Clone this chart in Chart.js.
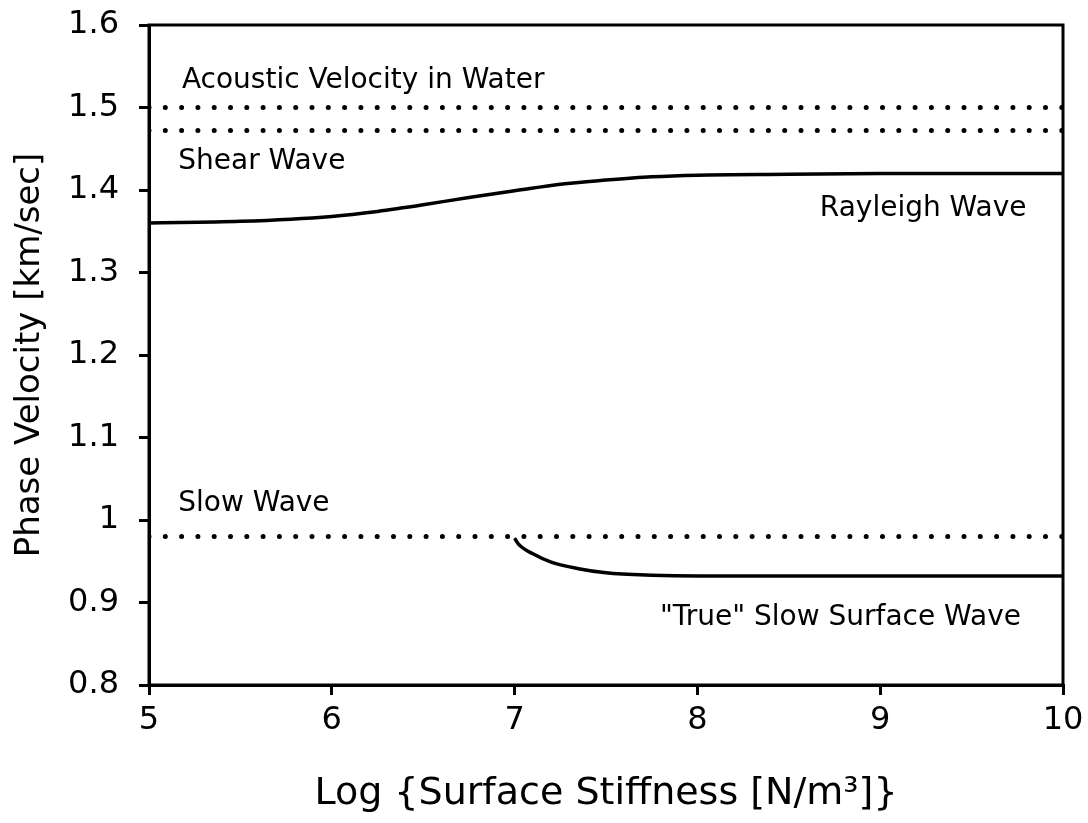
<!DOCTYPE html>
<html>
<head>
<meta charset="utf-8">
<script src="https://cdn.jsdelivr.net/npm/chart.js@4"></script>
<style>
  html, body { margin: 0; padding: 0; background: #fff; }
  #wrap { width: 1088px; height: 823px; }
</style>
</head>
<body>
<div id="wrap"><canvas id="phaseChart"></canvas></div>
<script>
// Log of surface stiffness (x) and phase velocities in km/sec (y)
const rayleighX = [5, 5.5, 6, 6.25, 6.5, 6.75, 7, 7.25, 7.5, 7.75, 8, 8.5, 9, 9.5, 10];
const rayleighV = [1.36, 1.362, 1.368, 1.374, 1.382, 1.391, 1.399, 1.407, 1.412, 1.416, 1.418, 1.419, 1.42, 1.42, 1.42];

const slowSurfX = [7.0, 7.02, 7.1, 7.2, 7.35, 7.5, 7.75, 8, 8.5, 9, 10];
const slowSurfV = [0.978, 0.971, 0.959, 0.949, 0.941, 0.936, 0.933, 0.932, 0.932, 0.932, 0.932];

// horizontal reference velocities
const waterV = 1.5;
const shearV = 1.472;
const slowV = 0.98;

const xTicks = [5, 6, 7, 8, 9, 10];
const yTicks = [0.8, 0.9, 1, 1.1, 1.2, 1.3, 1.4, 1.5, 1.6];

// text notes placed at data coordinates
const notes = [
  { text: "Acoustic Velocity in Water", x: 5.18, y: 1.524, align: "left" },
  { text: "Shear Wave", x: 5.16, y: 1.426, align: "left" },
  { text: "Rayleigh Wave", x: 9.8, y: 1.368, align: "right" },
  { text: "Slow Wave", x: 5.16, y: 1.011, align: "left" },
  { text: "\"True\" Slow Surface Wave", x: 9.77, y: 0.873, align: "right" }
];

const xMin = xTicks[0], xMax = xTicks[xTicks.length - 1];
const flat = (v) => [{ x: xMin, y: v }, { x: xMax, y: v }];
const pts = (xs, ys) => xs.map((x, i) => ({ x: x, y: ys[i] }));

const dotted = {
  borderColor: "#000",
  borderWidth: 5,
  borderDash: [0, 16.3],
  borderCapStyle: "round",
  pointRadius: 0,
  showLine: true,
  fill: false
};
const solid = {
  borderColor: "#000",
  borderWidth: 3.5,
  pointRadius: 0,
  showLine: true,
  fill: false,
  cubicInterpolationMode: "monotone"
};

const family = "'DejaVu Sans', 'Liberation Sans', Arial, sans-serif";

// draws the frame and the text notes
const framePlugin = {
  id: "frame",
  afterDatasetsDraw(chart) {
    const { ctx, chartArea: a, scales } = chart;
    ctx.save();
    ctx.strokeStyle = "#000";
    ctx.lineWidth = 3;
    ctx.strokeRect(a.left, a.top, a.right - a.left, a.bottom - a.top);
    ctx.fillStyle = "#000";
    ctx.font = "28px " + family;
    ctx.textBaseline = "alphabetic";
    notes.forEach((n) => {
      ctx.textAlign = n.align;
      ctx.fillText(n.text, scales.x.getPixelForValue(n.x), scales.y.getPixelForValue(n.y));
    });
    ctx.restore();
  }
};

const tickFont = { family: family, size: 32 };

const config = {
  type: "scatter",
  data: {
    datasets: [
      Object.assign({ label: "Acoustic Velocity in Water", data: flat(waterV) }, dotted),
      Object.assign({ label: "Shear Wave", data: flat(shearV) }, dotted),
      Object.assign({ label: "Slow Wave", data: flat(slowV) }, dotted),
      Object.assign({ label: "Rayleigh Wave", data: pts(rayleighX, rayleighV) }, solid),
      Object.assign({ label: "\"True\" Slow Surface Wave", data: pts(slowSurfX, slowSurfV) }, solid)
    ]
  },
  options: {
    responsive: false,
    animation: false,
    devicePixelRatio: 1,
    layout: { padding: { top: 25, right: 25, left: 0, bottom: 0 } },
    plugins: { legend: { display: false }, tooltip: { enabled: false } },
    scales: {
      x: {
        type: "linear",
        min: xMin,
        max: xMax,
        afterBuildTicks: (s) => { s.ticks = xTicks.map((v) => ({ value: v })); },
        afterFit: (s) => { s.height = 138; s.paddingLeft = 0; s.paddingRight = 0; },
        ticks: { color: "#000", font: tickFont, padding: 6, maxRotation: 0 },
        grid: { display: true, drawOnChartArea: false, tickLength: 10, color: "#000", lineWidth: 3 },
        border: { display: true, color: "#000", width: 3 },
        title: {
          display: true,
          text: "Log {Surface Stiffness [N/m\u00B3]}",
          color: "#000",
          font: { family: family, size: 38 },
          padding: { top: 0, bottom: 6 }
        }
      },
      y: {
        type: "linear",
        min: yTicks[0],
        max: yTicks[yTicks.length - 1],
        afterBuildTicks: (s) => { s.ticks = yTicks.map((v) => ({ value: v })); },
        afterFit: (s) => { s.width = 149; s.paddingTop = 0; s.paddingBottom = 0; },
        ticks: {
          color: "#000",
          font: tickFont,
          padding: 20,
          callback: (v) => String(Math.round(v * 10) / 10)
        },
        grid: { display: true, drawOnChartArea: false, tickLength: 10, color: "#000", lineWidth: 3 },
        border: { display: true, color: "#000", width: 3 },
        title: {
          display: true,
          text: "Phase Velocity [km/sec]",
          color: "#000",
          font: { family: family, size: 34 },
          padding: { top: 10, bottom: 0 }
        }
      }
    }
  },
  plugins: [framePlugin]
};

const canvas = document.getElementById("phaseChart");
canvas.width = 1088;
canvas.height = 823;
new Chart(canvas.getContext("2d"), config);
</script>
</body>
</html>
